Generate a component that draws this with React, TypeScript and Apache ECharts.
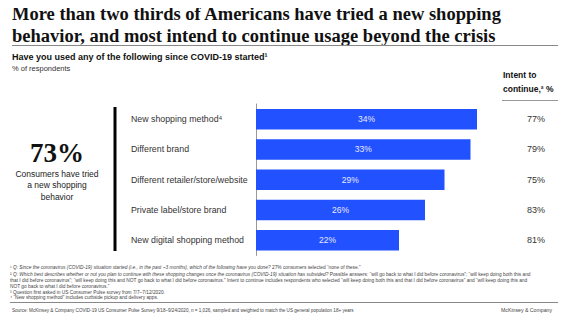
import React, { useEffect, useRef } from "react";
import * as echarts from "echarts";

const categories = [
  "New shopping method⁴",
  "Different brand",
  "Different retailer/store/website",
  "Private label/store brand",
  "New digital shopping method",
];
const triedValues = [34, 33, 29, 26, 22];
const intentValues = [77, 79, 75, 83, 81];

const titleLines = [
  "More than two thirds of Americans have tried a new shopping",
  "behavior, and most intend to continue usage beyond the crisis",
];
const subtitle = "Have you used any of the following since COVID-19 started¹";
const unitText = "% of respondents";
const headline = "73%";
const headlineSub = ["Consumers have tried", "a new shopping", "behavior"];
const footnotes = [
  "¹ {i|Q: Since the coronavirus (COVID-19) situation started (i.e., in the past ~3 months), which of the following have you done?} 27% consumers selected “none of these.”",
  "² {i|Q: Which best describes whether or not you plan to continue with these shopping changes once the coronavirus (COVID-19) situation has subsided?} Possible answers: “will go back to what I did before coronavirus”; “will keep doing both this and",
  "that I did before coronavirus”; “will keep doing this and NOT go back to what I did before coronavirus.” Intent to continue includes respondents who selected “will keep doing both this and that I did before coronavirus” and “will keep doing this and",
  "NOT go back to what I did before coronavirus.”",
  "³ Question first asked in US Consumer Pulse survey from 7/7–7/12/2020.",
  "⁴ “New shopping method” includes curbside pickup and delivery apps.",
];
const sourceText =
  "Source: McKinsey & Company COVID-19 US Consumer Pulse Survey 9/18–9/24/2020, n = 1,026, sampled and weighted to match the US general population 18+ years";
const brandText = "McKinsey & Company";

const SANS = "'Liberation Sans', Arial, sans-serif";
const SERIF = "'Liberation Serif', 'DejaVu Serif', serif";
const BLUE = "#2251ff";

export default function App() {
  const ref = useRef<HTMLDivElement>(null);
  useEffect(() => {
    if (!ref.current) return;
    const chart = echarts.init(ref.current, null, { renderer: "svg" });
    const footY = [267, 274, 280, 286, 292, 297.5];
    const graphics: any[] = [
      ...titleLines.map((t, i) => ({
        type: "text",
        x: 12,
        y: 14 + i * 22,
        style: {
          text: t,
          font: `bold 18.5px ${SERIF}`,
          fill: "#111",
          verticalAlign: "middle",
        },
      })),
      {
        type: "line",
        shape: { x1: 12, y1: 45.5, x2: 566, y2: 45.5 },
        style: { stroke: "#888", lineWidth: 1 },
      },
      {
        type: "text",
        x: 12,
        y: 57,
        style: { text: subtitle, font: `bold 9px ${SANS}`, fill: "#111", verticalAlign: "middle" },
      },
      {
        type: "text",
        x: 12,
        y: 68.5,
        style: { text: unitText, font: `7.5px ${SANS}`, fill: "#333", verticalAlign: "middle" },
      },
      {
        type: "text",
        x: 503,
        y: 75,
        style: { text: "Intent to", font: `bold 8.5px ${SANS}`, fill: "#111", verticalAlign: "middle" },
      },
      {
        type: "text",
        x: 503,
        y: 89,
        style: { text: "continue,² %", font: `bold 8.5px ${SANS}`, fill: "#111", verticalAlign: "middle" },
      },
      {
        type: "line",
        shape: { x1: 502, y1: 100.5, x2: 566, y2: 100.5 },
        style: { stroke: "#999", lineWidth: 1 },
      },
      {
        type: "line",
        shape: { x1: 115, y1: 107, x2: 115, y2: 251 },
        style: { stroke: "#000", lineWidth: 3 },
      },
      {
        type: "text",
        x: 57,
        y: 153,
        style: {
          text: headline,
          font: `bold 27px ${SERIF}`,
          fill: "#111",
          align: "center",
          verticalAlign: "middle",
        },
      },
      ...headlineSub.map((t, i) => ({
        type: "text",
        x: 57,
        y: 173.5 + i * 11.5,
        style: { text: t, font: `8.5px ${SANS}`, fill: "#222", align: "center", verticalAlign: "middle" },
      })),
      ...footnotes.map((t, i) => ({
        type: "text",
        x: 10,
        y: footY[i],
        style: {
          text: t,
          font: `4.8px ${SANS}`,
          fill: "#444",
          verticalAlign: "middle",
          rich: { i: { fontStyle: "italic", fontSize: 4.8, fontFamily: SANS, fill: "#444" } },
        },
      })),
      {
        type: "line",
        shape: { x1: 10, y1: 302.5, x2: 566, y2: 302.5 },
        style: { stroke: "#888", lineWidth: 1 },
      },
      {
        type: "text",
        x: 12,
        y: 310,
        style: { text: sourceText, font: `4.6px ${SANS}`, fill: "#444", verticalAlign: "middle" },
      },
      {
        type: "text",
        x: 501,
        y: 310,
        style: { text: brandText, font: `5.2px ${SANS}`, fill: "#444", verticalAlign: "middle" },
      },
    ];

    chart.setOption({
      animation: false,
      grid: { left: 256, top: 104, height: 151.5, right: 50, containLabel: false },
      xAxis: {
        type: "value",
        min: 0,
        max: 40,
        show: false,
      },
      yAxis: [
        {
          type: "category",
          data: categories,
          inverse: true,
          axisLine: { show: true, lineStyle: { color: "#999", width: 1 } },
          axisTick: { show: false },
          axisLabel: {
            align: "left",
            margin: 125,
            fontFamily: SANS,
            fontSize: 8.8,
            color: "#333",
          },
        },
        {
          type: "category",
          data: intentValues.map((v) => v + "%"),
          inverse: true,
          position: "right",
          axisLine: { show: false },
          axisTick: { show: false },
          axisLabel: {
            align: "center",
            margin: 20,
            fontFamily: SANS,
            fontSize: 9,
            color: "#333",
          },
        },
      ],
      series: [
        {
          type: "bar",
          data: triedValues,
          barWidth: 20.5,
          itemStyle: { color: BLUE },
          label: {
            show: true,
            position: "inside",
            formatter: "{c}%",
            color: "#e6eaff",
            fontFamily: SANS,
            fontSize: 8.5,
          },
        },
      ],
      graphic: graphics,
    });
    return () => chart.dispose();
  }, []);
  return <div ref={ref} style={{ width: 566, height: 324, margin: -8, background: "#fff" }} />;
}
